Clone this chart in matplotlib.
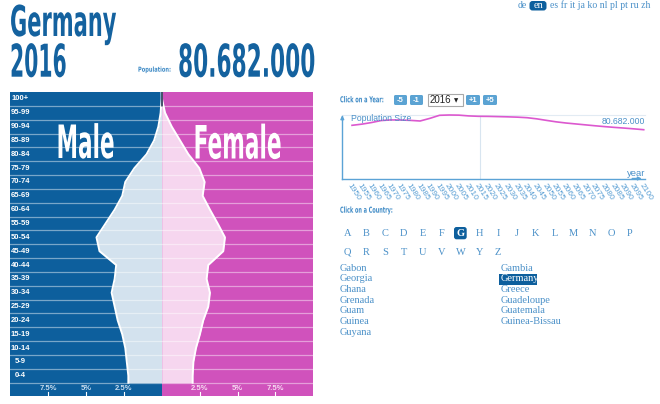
import matplotlib
matplotlib.use("Agg")
import matplotlib.pyplot as plt
import numpy as np
from matplotlib.patches import FancyBboxPatch, Rectangle
from matplotlib.patheffects import AbstractPathEffect
from matplotlib.transforms import Affine2D
from matplotlib.textpath import TextPath
from matplotlib.font_manager import FontProperties

W, H = 660, 404

# pyramid data, % of total population, bottom (0-4) to top (100+)
ages = ["0-4", "5-9", "10-14", "15-19", "20-24", "25-29", "30-34", "35-39",
        "40-44", "45-49", "50-54", "55-59", "60-64", "65-69", "70-74",
        "75-79", "80-84", "85-89", "90-94", "95-99", "100+"]
male_pct = [2.2, 2.3, 2.4, 2.6, 2.9, 3.1, 3.3, 3.1, 3.0, 4.1, 4.3,
            3.7, 3.1, 2.6, 2.4, 1.8, 1.0, 0.5, 0.22, 0.07, 0.01]
female_pct = [2.04, 2.09, 2.26, 2.52, 2.74, 3.07, 3.18, 2.96, 3.07, 4.06, 4.17,
              3.69, 3.18, 2.70, 2.83, 2.48, 1.76, 1.21, 0.66, 0.22, 0.02]
pct_ticks = [2.5, 5, 7.5]

# population history / projection (millions)
years = list(range(1950, 2101, 5))
population = [69.0, 70.5, 72.6, 75.2, 76.0, 75.9, 75.4, 74.6, 78.0, 82.0, 82.4,
              82.2, 81.2, 80.7, 80.6, 80.3, 80.0, 79.6, 78.9, 77.4, 75.4,
              73.5, 72.0, 70.8, 69.6, 68.4, 67.3, 66.3, 65.4, 64.4, 63.3]
current_year = 2016
current_pop = "80.682.000"

languages = ["de", "en", "es", "fr", "it", "ja", "ko", "nl", "pl", "pt", "ru", "zh"]
letters = list("ABCDEFGHIJKLMNOP") + list("QRSTUVWYZ")
countries_left = ["Gabon", "Georgia", "Ghana", "Grenada", "Guam", "Guinea", "Guyana"]
countries_right = ["Gambia", "Germany", "Greece", "Guadeloupe", "Guatemala", "Guinea-Bissau"]

BLUE = "#0d5f9d"
BLUE_LIGHT = "#d3e2ee"
MAGENTA = "#d052bc"
MAGENTA_LIGHT = "#f6d6ef"
TITLE = "#14629f"
LINK = "#4a90c8"
BUTTON = "#5ba3d3"


class Squeeze(AbstractPathEffect):
    """Scale text glyphs to a given ink width and stretch them vertically."""
    def __init__(self, width, sy=1.0, ha="left"):
        super().__init__()
        self.width = width
        self.sy = sy
        self.ha = ha

    def draw_path(self, renderer, gc, tpath, affine, rgbFace=None):
        bb = tpath.get_extents(affine)
        sx = self.width / bb.width if bb.width > 0 else 1.0
        x0 = {"left": bb.x0, "center": (bb.x0 + bb.x1) / 2, "right": bb.x1}[self.ha]
        y0 = affine.transform([[0, 0]])[0][1]  # baseline
        t = affine + Affine2D().translate(-x0, -y0).scale(sx, self.sy).translate(x0, y0)
        renderer.draw_path(gc, tpath, t, rgbFace)


def px_axes(l, t, r, b, **kw):
    return fig.add_axes([l / W, 1 - b / H, (r - l) / W, (b - t) / H], **kw)


fig = plt.figure(figsize=(W / 100, H / 100), dpi=100)

# ---------------- pyramid ----------------
ax = px_axes(10, 92, 313.4, 395.7)
ax.set_xlim(-10, 10)
ax.set_ylim(-1.44, 20.5)
ax.axis("off")
ax.axvspan(-10, 0, color=BLUE, lw=0)
ax.axvspan(0, 10, color=MAGENTA, lw=0)

rows = np.arange(len(ages))
yy = np.concatenate([[-0.5], rows, [20.5]])
m = np.concatenate([[male_pct[0]], male_pct, [0]])
f = np.concatenate([[female_pct[0]], female_pct, [0]])
ax.fill_betweenx(yy, -m, 0, color=BLUE_LIGHT, lw=0)
ax.fill_betweenx(yy, 0, f, color=MAGENTA_LIGHT, lw=0)
ax.plot(-m, yy, color="white", lw=1.4)
ax.plot(f, yy, color="white", lw=1.4)
ax.plot([0, 0], [19.5, 20.5], color="#23324f", lw=1.2)

for b in np.arange(-0.5, 20, 1):
    ax.axhline(b, color="white", alpha=0.45, lw=0.9)

for i, a in enumerate(ages):
    ax.text(-9.32, i, a, ha="center", va="center", color="white",
            fontsize=5.5, fontweight="bold", family="Liberation Sans", clip_on=True)

for v in pct_ticks:
    for s, c in [(-1, "#c9def0"), (1, "#f7dcf2")]:
        ax.text(s * v, -0.93, f"{v:g}%", ha="center", va="center", color=c,
                fontsize=5.5, fontweight="bold", family="Liberation Sans")
        ax.plot([s * v, s * v], [-1.16, -1.44], color="white", lw=0.8)

# ---------------- population line ----------------
lc = px_axes(342.3, 116.3, 644.5, 178.5)
lc.set_xlim(1945.0, 2100.4)
lc.set_ylim(0, 80.7)
lc.patch.set_alpha(0)
for s in ["top", "right"]:
    lc.spines[s].set_visible(False)
for s in ["left", "bottom"]:
    lc.spines[s].set_color("#5ba3d6")
    lc.spines[s].set_linewidth(1.0)
lc.set_yticks([])
lc.set_xticks(years)
lc.set_xticklabels([str(y) for y in years], rotation=-57, ha="left",
                   rotation_mode="anchor", fontsize=6, color="#5a9fd4",
                   family="Liberation Sans")
lc.tick_params(axis="x", length=0, pad=2.5)
lc.axvline(current_year, color="#d8e5f0", lw=0.8, zorder=0)
lc.axhline(81.8, color="#e2ebf3", lw=0.8, zorder=0, clip_on=False)
lc.plot(years, population, color="#dc58cf", lw=1.2, clip_on=False)
lc.annotate("", xy=(0, 1.06), xytext=(0, 0.9), xycoords="axes fraction",
            arrowprops=dict(arrowstyle="-|>", color="#5ba3d6", lw=1.0,
                            mutation_scale=5))
lc.annotate("", xy=(1.0, 0), xytext=(0.95, 0), xycoords="axes fraction",
            arrowprops=dict(arrowstyle="-|>", color="#5ba3d6", lw=1.0,
                            mutation_scale=5))

# ---------------- overlay in pixel coordinates ----------------
ui = fig.add_axes([0, 0, 1, 1], zorder=5)
ui.set_xlim(0, W)
ui.set_ylim(H, 0)
ui.axis("off")


def big(x, y, s, width, cap, color, ha="left", family="DejaVu Sans", weight="bold"):
    # font size chosen so the natural ink width is `width` px; glyphs are
    # then stretched vertically to reach the wanted cap height (px)
    fp = FontProperties(family=family, weight=weight)
    w1 = TextPath((0, 0), s, size=1, prop=fp).get_extents().width
    c1 = TextPath((0, 0), "H", size=1, prop=fp).get_extents().height
    size = width / (w1 * 100 / 72)
    sy = cap / (c1 * size * 100 / 72)
    ui.text(x, y, s, fontsize=size, color=color, ha=ha, va="baseline",
            family=family, fontweight=weight, path_effects=[Squeeze(width, sy, ha)])


big(10, 36, "Germany", 105, 31, TITLE)
big(10, 76.7, "2016", 54, 33, TITLE)
big(138, 71.7, "Population:", 32, 5, "#3f8bc6")
big(178, 76.7, current_pop, 135, 33, TITLE)
big(85.5, 158, "Male", 55, 33.5, "white", ha="center")
big(237.5, 158.5, "Female", 85, 33.5, "white", ha="center")
big(340, 102.3, "Click on a Year:", 43, 6, "#3f8bc6")
big(340, 212.7, "Click on a Country:", 52, 6, "#3f8bc6")

# language links
ui.text(517.3, 7.6, languages[0], ha="left", va="baseline", color=LINK,
        fontsize=7, family="Liberation Serif")
ui.add_patch(FancyBboxPatch((529.5, 1), 17, 9.5,
                            boxstyle="round,pad=0,rounding_size=3",
                            fc=BLUE, ec="none"))
ui.text(538, 7.6, languages[1], ha="center", va="baseline", color="white",
        fontsize=7.5, family="Liberation Serif")
ui.text(550, 7.6, " ".join(languages[2:]), ha="left", va="baseline",
        color=LINK, fontsize=7, family="Liberation Serif")

# year buttons
for lab, x0, x1 in [("-5", 394, 407), ("-1", 410, 423), ("+1", 466, 480), ("+5", 483, 497)]:
    ui.add_patch(FancyBboxPatch((x0, 95), x1 - x0, 10,
                                boxstyle="round,pad=0,rounding_size=1.5",
                                fc=BUTTON, ec="none"))
    ui.text((x0 + x1) / 2, 100.3, lab, ha="center", va="center", color="white",
            fontsize=5.5, fontweight="bold", family="Liberation Sans")
ui.add_patch(Rectangle((427.5, 93.5), 35.5, 12, fc="white", ec="#a9a9a9", lw=0.8))
ui.text(430, 103, str(current_year), ha="left", va="baseline", color="#222222",
        fontsize=7, family="Liberation Sans")
ui.text(456, 102.5, "\u25bc", ha="center", va="baseline", color="#222222",
        fontsize=4, family="DejaVu Sans")

# chart labels
ui.text(351, 121.3, "Population Size", ha="left", va="baseline", color=LINK,
        fontsize=6.2, family="Liberation Sans")
ui.text(645, 124.3, current_pop, ha="right", va="baseline", color=LINK,
        fontsize=6.2, family="Liberation Sans")
ui.text(645, 176.3, "year", ha="right", va="baseline", color=LINK,
        fontsize=6.8, family="Liberation Sans")

# alphabet
for i, ch in enumerate(letters):
    row, col = divmod(i, 16)
    x = 347.3 + 18.85 * col
    y = 236 + 19 * row
    if ch == "G":
        ui.add_patch(FancyBboxPatch((454, 227), 12.7, 12.3,
                                    boxstyle="round,pad=0,rounding_size=2.5",
                                    fc=BLUE, ec="none"))
        ui.text(x, y, ch, ha="center", va="baseline", color="white",
                fontsize=7.5, fontweight="bold", family="Liberation Serif")
    else:
        ui.text(x, y, ch, ha="center", va="baseline", color=LINK,
                fontsize=7.5, family="Liberation Serif")

# country lists
for i, c in enumerate(countries_left):
    ui.text(340, 270.7 + 10.67 * i, c, ha="left", va="baseline", color=LINK,
            fontsize=7.5, family="Liberation Serif")
for i, c in enumerate(countries_right):
    if c == "Germany":
        ui.add_patch(Rectangle((499, 274), 38, 11, fc=BLUE, ec="none"))
        ui.text(500.7, 270.7 + 10.67 * i, c, ha="left", va="baseline", color="white",
                fontsize=7.5, family="Liberation Serif")
    else:
        ui.text(500.7, 270.7 + 10.67 * i, c, ha="left", va="baseline", color=LINK,
                fontsize=7.5, family="Liberation Serif")

fig.savefig("out.png", dpi=100)
